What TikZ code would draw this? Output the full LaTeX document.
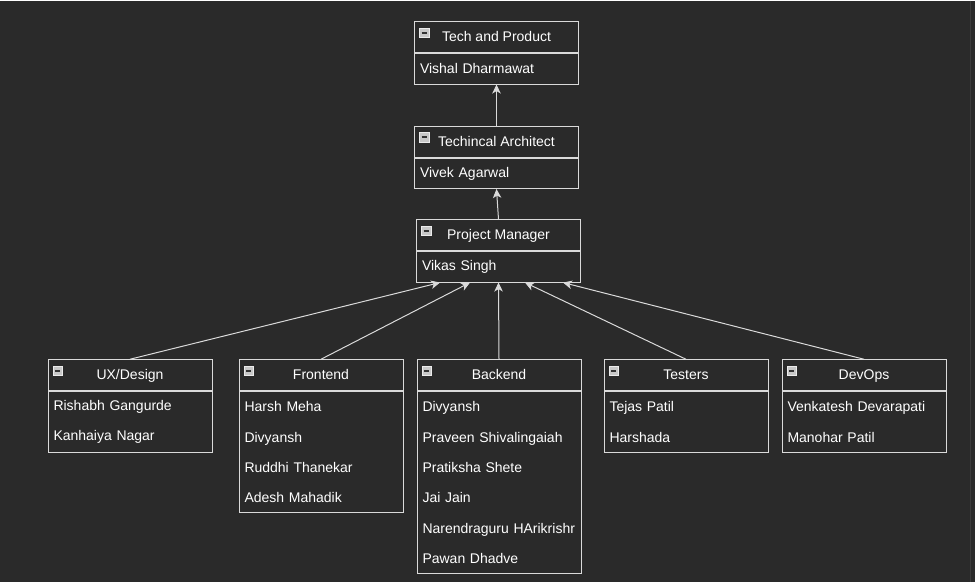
\documentclass[tikz,border=0pt]{standalone}
\usepackage{fontspec}
\setmainfont{Liberation Sans}
\usetikzlibrary{positioning,arrows.meta}
\definecolor{bgcol}{HTML}{2A2A2A}
\definecolor{linecol}{HTML}{DADADA}
\definecolor{iconcol}{HTML}{C8C8C8}
\definecolor{edgecol}{HTML}{3C3C3C}

\begin{document}
\begin{tikzpicture}[x=1pt, y=-1pt,
	hd/.style={draw=linecol, line width=1pt, minimum width=164pt, minimum height=31pt, inner sep=0pt, text height=10pt, text depth=1pt, text=white, font=\fontsize{14}{16}\selectfont},
	bd/.style={draw=linecol, line width=1pt, text width=153pt, inner xsep=5.5pt, inner ysep=0pt, minimum height=30.3pt, align=left, text=white, font=\fontsize{14}{30.3}\selectfont},
	icon/.style={draw=white!92!black, fill=iconcol, line width=0.5pt, minimum size=9.5pt, inner sep=0pt, text=black!80}]
\fill[bgcol] (0,0) rectangle (975,581);
\draw[edgecol, line width=1.5pt] (970.5,0) -- (970.5,581);

% top chain
\node[hd] (tp) at (496.5,36.5) {Tech and Product};
\node[bd, below=0pt of tp] (tpb) {Vishal Dharmawat};
\node[hd] (ta) at (496.5,141) {Techincal Architect};
\node[bd, below=0pt of ta] (tab) {Vivek Agarwal};
\node[hd] (pm) at (498.5,234.5) {Project Manager};
\node[bd, below=0pt of pm] (pmb) {Vikas Singh};

% teams
\node[hd] (ux) at (130,374.5) {UX/Design};
\node[bd, below=0pt of ux, minimum height=60.6pt] (uxb) {Rishabh Gangurde\\Kanhaiya Nagar};
\node[hd] (fe) at (321,374.5) {Frontend};
\node[bd, below=0pt of fe, minimum height=121.2pt] (feb) {Harsh Meha\\Divyansh\\Ruddhi Thanekar\\Adesh Mahadik};
\node[hd] (be) at (499,374.5) {Backend};
\node[bd, below=0pt of be, minimum height=181.8pt] (beb) {Divyansh\\Praveen Shivalingaiah\\Pratiksha Shete\\Jai Jain\\\mbox{Narendraguru HArikrishr}\\Pawan Dhadve};
\node[hd] (ts) at (686,374.5) {Testers};
\node[bd, below=0pt of ts, minimum height=60.6pt] (tsb) {Tejas Patil\\Harshada};
\node[hd] (dv) at (864,374.5) {DevOps};
\node[bd, below=0pt of dv, minimum height=60.6pt] (dvb) {Venkatesh Devarapati\\Manohar Patil};

\foreach \n in {tp,ta,pm,ux,fe,be,ts,dv}
	\node[icon] (\n-i) at ([xshift=10pt,yshift=-11.5pt]\n.north west) {\rule{5pt}{1.6pt}};

\path[-{Stealth[length=9pt,width=8.5pt,inset=2.5pt]}, linecol, line width=1pt]
(ta.north) edge (tpb.south)
(pm.north) edge (tab.south)
(ux.north) edge ([xshift=-58.5pt]pmb.south)
(fe.north) edge ([xshift=-28.5pt]pmb.south)
(be.north) edge (pmb.south)
(ts.north) edge ([xshift=26.5pt]pmb.south)
(dv.north) edge ([xshift=64.5pt]pmb.south);
\end{tikzpicture}
\end{document}
